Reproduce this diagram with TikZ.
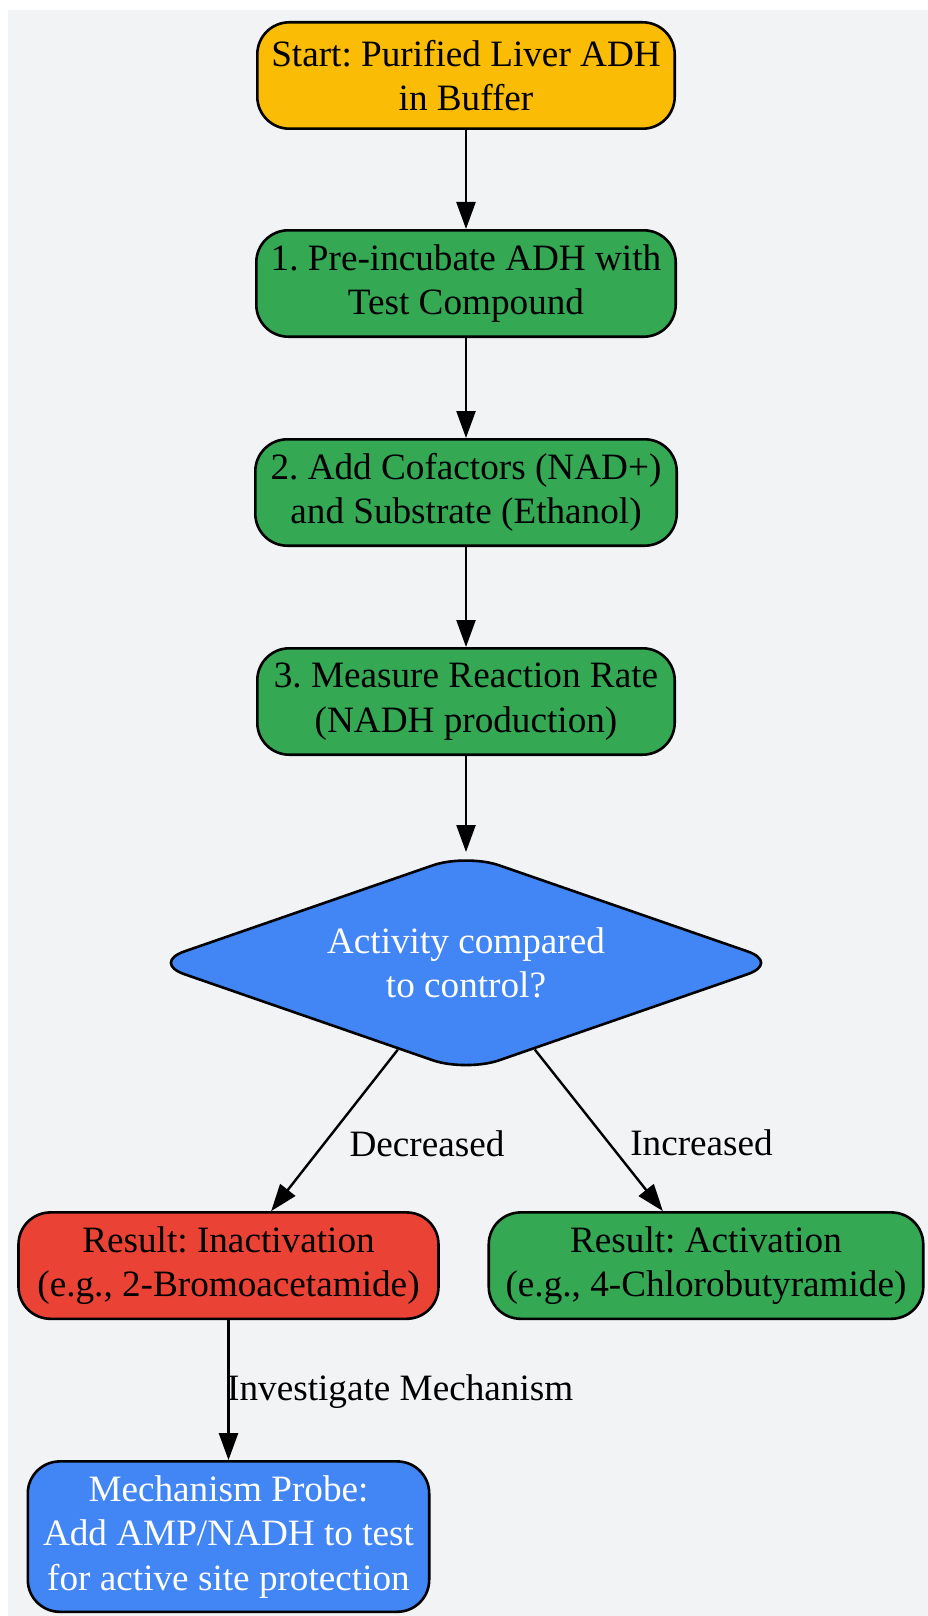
\documentclass[tikz,border=0pt]{standalone}
\usepackage{fontspec}
\setmainfont{Liberation Serif}
\frenchspacing
\usetikzlibrary{arrows.meta,positioning,shapes.geometric}
\definecolor{bgGray}{HTML}{F1F3F4}
\definecolor{gYellow}{HTML}{FBBC05}
\definecolor{gGreen}{HTML}{34A853}
\definecolor{gBlue}{HTML}{4285F4}
\definecolor{gRed}{HTML}{EA4335}
\tikzstyle{box}        =[draw,rectangle,rounded corners=32pt,line width=2.6pt,minimum height=106.4pt,inner sep=0pt,align=center]
\tikzstyle{yellowBox}  =[box,fill=gYellow]
\tikzstyle{greenBox}   =[box,fill=gGreen]
\tikzstyle{redBox}     =[box,fill=gRed]
\tikzstyle{blueBox}    =[box,fill=gBlue,text=white]
\tikzstyle{blueDiamond}=[draw,diamond,aspect=2.88,fill=gBlue,text=white,line width=2.6pt,rounded corners=35pt,minimum width=630pt,minimum height=219pt,inner sep=0pt,align=center]
\tikzstyle{edgeLabel}  =[inner sep=0pt,anchor=west]

\begin{document}
\begin{tikzpicture}[font=\fontsize{37.2}{44.5}\selectfont,line width=2.4pt,>={Triangle[length=27pt,width=19pt]}]
\useasboundingbox (0,0) rectangle (928pt,-1616pt);
\fill[white] (0,0) rectangle (928pt,-1616pt);
\fill[bgGray] (8pt,-10pt) rectangle (928pt,-1616pt);

\node [yellowBox,minimum width=417.4pt] (start) at (466pt,-75.5pt) {Start: Purified Liver ADH\\in Buffer};
\node [greenBox,minimum width=419.4pt,below=99pt of start] (preinc) {1. Pre-incubate ADH with\\Test Compound};
\node [greenBox,minimum width=421.4pt,below=100pt of preinc] (cofactors) {2. Add Cofactors (NAD+)\\and Substrate (Ethanol)};
\node [greenBox,minimum width=417.4pt,below=100pt of cofactors] (measure) {3. Measure Reaction Rate\\(NADH production)};
\node [blueDiamond,below=96pt of measure] (activity) {Activity compared\\to control?};
\node [redBox,minimum width=420pt,below=137.5pt of activity,xshift=-237.5pt] (inact) {Result: Inactivation\\(e.g., 2-Bromoacetamide)};
\node [greenBox,minimum width=434.5pt,below=137.5pt of activity,xshift=240pt] (act) {Result: Activation\\(e.g., 4-Chlorobutyramide)};
\node [blueBox,minimum width=401.4pt,minimum height=150.4pt,below=140pt of inact] (probe) {Mechanism Probe:\\Add AMP/NADH to test\\for active site protection};

\draw[->] (start) -- (preinc);
\draw[->] (preinc) -- (cofactors);
\draw[->] (cofactors) -- (measure);
\draw[->] (measure) -- (activity);
\draw[->] (activity) -- node[edgeLabel,pos=0.58,xshift=24pt] {Decreased} (inact);
\draw[->] (activity) -- node[edgeLabel,pos=0.58,xshift=20pt] {Increased} (act);
\draw[->] (inact) -- node[edgeLabel,pos=0.51,xshift=-2.5pt] {Investigate Mechanism} (probe);
\end{tikzpicture}
\end{document}
